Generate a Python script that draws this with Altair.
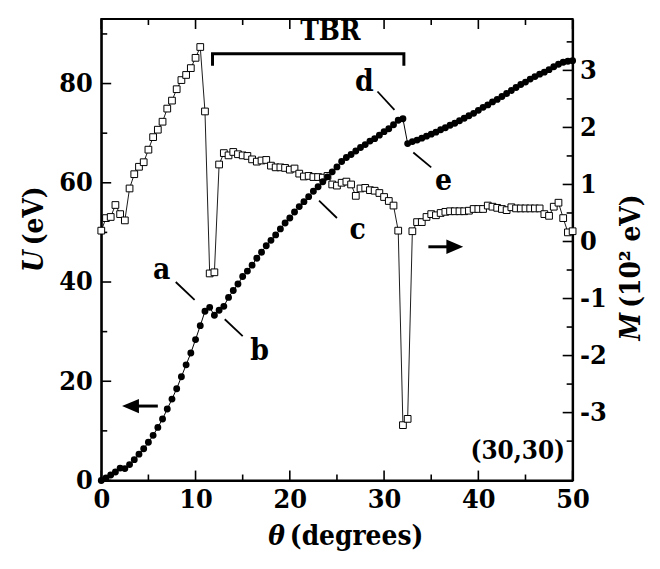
import altair as alt
import pandas as pd

# ---------------- data ----------------
theta = [
    0.0, 0.5, 1.0, 1.5, 2.0, 2.5, 3.0, 3.5, 4.0, 4.5,
    5.0, 5.5, 6.0, 6.5, 7.0, 7.5, 8.0, 8.5, 9.0, 9.5,
    10.0, 10.5, 11.0, 11.5, 12.0, 12.5, 13.0, 13.5, 14.0, 14.5,
    15.0, 15.5, 16.0, 16.5, 17.0, 17.5, 18.0, 18.5, 19.0, 19.5,
    20.0, 20.5, 21.0, 21.5, 22.0, 22.5, 23.0, 23.5, 24.0, 24.5,
    25.0, 25.5, 26.0, 26.5, 27.0, 27.5, 28.0, 28.5, 29.0, 29.5,
    30.0, 30.5, 31.0, 31.5, 32.0, 32.5, 33.0, 33.5, 34.0, 34.5,
    35.0, 35.5, 36.0, 36.5, 37.0, 37.5, 38.0, 38.5, 39.0, 39.5,
    40.0, 40.5, 41.0, 41.5, 42.0, 42.5, 43.0, 43.5, 44.0, 44.5,
    45.0, 45.5, 46.0, 46.5, 47.0, 47.5, 48.0, 48.5, 49.0, 49.5,
    50.0,
]
U_eV = [
    0.0, 0.5, 1.1, 1.7, 2.5, 2.4, 3.2, 4.2, 5.3, 6.4,
    7.7, 9.1, 10.7, 12.4, 14.4, 16.4, 18.5, 20.9, 23.3, 25.7,
    28.4, 31.2, 34.1, 34.9, 33.3, 34.3, 35.1, 36.9, 38.3, 39.6,
    41.1, 42.2, 43.4, 44.8, 46.0, 47.3, 48.4, 49.5, 50.7, 51.9,
    52.9, 54.1, 55.2, 56.2, 57.2, 58.3, 59.2, 60.2, 61.2, 62.2,
    63.2, 64.3, 65.1, 65.7, 66.4, 67.1, 67.7, 68.4, 68.9, 69.6,
    70.3, 70.9, 71.7, 72.6, 72.9, 67.9, 68.3, 68.6, 69.0, 69.4,
    69.8, 70.2, 70.7, 71.1, 71.6, 72.0, 72.5, 73.0, 73.5, 74.0,
    74.6, 75.2, 75.7, 76.3, 76.8, 77.4, 78.0, 78.6, 79.2, 79.8,
    80.3, 80.9, 81.4, 81.9, 82.3, 82.8, 83.4, 83.9, 84.3, 84.5,
    84.6,
]
M_1e2eV = [
    0.19, 0.41, 0.43, 0.64, 0.48, 0.37, 0.93, 1.18, 1.31, 1.39,
    1.61, 1.83, 1.96, 2.10, 2.33, 2.47, 2.67, 2.83, 2.92, 3.04,
    3.22, 3.41, 2.28, -0.56, -0.54, 1.35, 1.55, 1.51, 1.57, 1.53,
    1.51, 1.50, 1.44, 1.40, 1.42, 1.43, 1.33, 1.30, 1.30, 1.29,
    1.26, 1.28, 1.19, 1.14, 1.15, 1.13, 1.13, 1.12, 1.15, 1.00,
    0.98, 1.03, 1.05, 1.00, 0.80, 0.93, 0.94, 0.90, 0.89, 0.85,
    0.78, 0.71, 0.63, 0.19, -3.22, -3.11, 0.18, 0.34, 0.34, 0.43,
    0.48, 0.46, 0.50, 0.52, 0.53, 0.53, 0.53, 0.53, 0.54, 0.57,
    0.57, 0.57, 0.63, 0.61, 0.59, 0.57, 0.55, 0.60, 0.58, 0.58,
    0.58, 0.58, 0.58, 0.58, 0.48, 0.45, 0.61, 0.68, 0.41, 0.16,
    0.18,
]

x_major = [0, 10, 20, 30, 40, 50]
x_minor = [5, 15, 25, 35, 45]
u_major = [0, 20, 40, 60, 80]
u_minor = [10, 30, 50, 70, 90]
m_major = [-3, -2, -1, 0, 1, 2, 3]
m_minor = [-3.5, -2.5, -1.5, -0.5, 0.5, 1.5, 2.5, 3.5]

# annotation letters (theta, U)
lab_text = ["a", "b", "c", "d", "e"]
lab_x = [6.4, 16.8, 27.2, 27.9, 36.3]
lab_u = [42.4, 26.0, 50.4, 80.4, 60.4]
# leader lines (theta1, U1) -> (theta2, U2)
lead_x1 = [7.9, 13.1, 23.1, 29.3, 33.1]
lead_u1 = [40.0, 32.5, 56.4, 78.4, 66.1]
lead_x2 = [9.9, 15.0, 25.0, 31.1, 35.0]
lead_u2 = [36.4, 29.1, 52.9, 74.7, 63.1]
# TBR bracket
br_x = [11.8, 11.8, 32.1, 32.1]
br_u = [83.6, 86.0, 86.0, 83.6]

# ---------------- geometry / style ----------------
W, H = 475, 465
FONT = "DejaVu Serif Condensed, DejaVu Serif, serif"
TICK_FS = 27
TITLE_FS = 28

xs = alt.Scale(domain=[0, 50], nice=False, zero=False)
us = alt.Scale(domain=[0, 93], nice=False, zero=False)
ms = alt.Scale(domain=[-4.19, 3.9], nice=False, zero=False)

common_axis = dict(
    labelFont=FONT, labelFontSize=TICK_FS, labelFontWeight="bold",
    labelColor="black", domainColor="black", domainWidth=2,
    ticks=False, tickSize=0, grid=False, title=None,
    labelFlush=False, labelOverlap=False, labelBound=False,
    labelExpr="'' + datum.value",
)
x_axis = alt.Axis(orient="bottom", values=x_major, labelPadding=6, **common_axis)
u_axis = alt.Axis(orient="left", values=u_major, labelPadding=9, **common_axis)
m_axis = alt.Axis(orient="right", values=m_major, labelPadding=7, **common_axis)


def X(f):
    return alt.X(f, type="quantitative", scale=xs, axis=x_axis)


def YU(f, axis=None):
    return alt.Y(f, type="quantitative", scale=us, axis=axis)


def YM(f, axis=None):
    return alt.Y(f, type="quantitative", scale=ms, axis=axis)


df = pd.DataFrame({"theta": theta, "U": U_eV, "M": M_1e2eV})

m_line = alt.Chart(df).mark_line(color="black", strokeWidth=0.9).encode(
    x=X("theta"), y=YM("M", m_axis))
m_pts = alt.Chart(df).mark_point(
    shape="square", filled=True, fill="white", stroke="black",
    strokeWidth=1, size=46, opacity=1, fillOpacity=1).encode(
    x=X("theta"), y=YM("M"))
u_line = alt.Chart(df).mark_line(color="black", strokeWidth=1).encode(
    x=X("theta"), y=YU("U", u_axis))
u_pts = alt.Chart(df).mark_circle(color="black", size=48, opacity=1).encode(
    x=X("theta"), y=YU("U"))

# inward ticks
xt_maj = pd.DataFrame({"t": x_major})
xt_min = pd.DataFrame({"t": x_minor})
ut_maj = pd.DataFrame({"t": u_major})
ut_min = pd.DataFrame({"t": u_minor})
mt_maj = pd.DataFrame({"t": m_major})
mt_min = pd.DataFrame({"t": m_minor})
TW = 1.6
MAJ, MIN = 10, 6

tick_layers = [
    alt.Chart(xt_maj).mark_rule(color="black", strokeWidth=TW).encode(
        x=X("t"), y=alt.value(H), y2=alt.value(H - MAJ)),
    alt.Chart(xt_min).mark_rule(color="black", strokeWidth=TW).encode(
        x=X("t"), y=alt.value(H), y2=alt.value(H - MIN)),
    alt.Chart(xt_maj).mark_rule(color="black", strokeWidth=TW).encode(
        x=X("t"), y=alt.value(0), y2=alt.value(MAJ)),
    alt.Chart(xt_min).mark_rule(color="black", strokeWidth=TW).encode(
        x=X("t"), y=alt.value(0), y2=alt.value(MIN)),
    alt.Chart(ut_maj).mark_rule(color="black", strokeWidth=TW).encode(
        y=YU("t"), x=alt.value(0), x2=alt.value(MAJ)),
    alt.Chart(ut_min).mark_rule(color="black", strokeWidth=TW).encode(
        y=YU("t"), x=alt.value(0), x2=alt.value(MIN)),
    alt.Chart(mt_maj).mark_rule(color="black", strokeWidth=TW).encode(
        y=YM("t"), x=alt.value(W), x2=alt.value(W - MAJ)),
    alt.Chart(mt_min).mark_rule(color="black", strokeWidth=TW).encode(
        y=YM("t"), x=alt.value(W), x2=alt.value(W - MIN)),
]

# annotations
lead_df = pd.DataFrame({"x1": lead_x1, "u1": lead_u1, "x2": lead_x2, "u2": lead_u2})
leaders = alt.Chart(lead_df).mark_rule(color="black", strokeWidth=1.8).encode(
    x=X("x1"), x2="x2", y=YU("u1"), y2="u2")

br_df = pd.DataFrame({"x": br_x, "u": br_u, "o": [0, 1, 2, 3]})
bracket = alt.Chart(br_df).mark_line(color="black", strokeWidth=3).encode(
    x=X("x"), y=YU("u"), order="o")

lab_df = pd.DataFrame({"x": lab_x, "u": lab_u, "t": lab_text})
letters = alt.Chart(lab_df).mark_text(
    font=FONT, fontSize=30, fontWeight="bold", color="black",
    baseline="middle", align="center").encode(x=X("x"), y=YU("u"), text="t")

tbr = alt.Chart(pd.DataFrame({"x": [24.3], "u": [90.3], "t": ["TBR"]})).mark_text(
    font=FONT, fontSize=28, fontWeight="bold", color="black",
    baseline="middle", align="center").encode(x=X("x"), y=YU("u"), text="t")

tag = alt.Chart(pd.DataFrame({"x": [49.2], "u": [6.0], "t": ["(30,30)"]})).mark_text(
    font=FONT, fontSize=26, fontWeight="bold", color="black",
    baseline="middle", align="right").encode(x=X("x"), y=YU("u"), text="t")

# arrows
arr_df = pd.DataFrame({"x1": [3.1, 34.7], "x2": [6.0, 37.5], "u": [15.0, 47.1]})
shafts = alt.Chart(arr_df).mark_rule(color="black", strokeWidth=3).encode(
    x=X("x1"), x2="x2", y=YU("u"))
head_l = alt.Chart(pd.DataFrame({"x": [3.1], "u": [15.0]})).mark_point(
    shape="M -1 0 L 1 -0.85 L 1 0.85 Z", filled=True, color="black",
    size=289, opacity=1).encode(x=X("x"), y=YU("u"))
head_r = alt.Chart(pd.DataFrame({"x": [37.5], "u": [47.1]})).mark_point(
    shape="M 1 0 L -1 -0.85 L -1 0.85 Z", filled=True, color="black",
    size=289, opacity=1).encode(x=X("x"), y=YU("u"))

# axis titles (italic symbol + bold text)
def ttext(txt, px, py, align, italic=False, angle=0):
    kw = dict(font=FONT, fontSize=TITLE_FS, fontWeight="bold", color="black",
              baseline="middle", align=align)
    if italic:
        kw["fontStyle"] = "italic"
    if angle:
        kw["angle"] = angle
    return alt.Chart(pd.DataFrame({"t": [txt]})).mark_text(**kw).encode(
        x=alt.value(px), y=alt.value(py), text="t")

titles = [
    ttext("\u03b8", 185, 522, "right", italic=True),
    ttext("(degrees)", 190, 522, "left"),
    ttext("U", -67, 233, "right", italic=True, angle=270),
    ttext("(eV)", -67, 228, "left", angle=270),
    ttext("M", 535, 296, "right", italic=True, angle=270),
    ttext("(10\u00b2 eV)", 535, 291, "left", angle=270),
]

chart = alt.layer(
    m_line, u_line, *tick_layers, bracket, leaders, shafts, head_l, head_r,
    m_pts, u_pts, letters, tbr, tag, *titles,
).resolve_scale(y="independent").properties(
    width=W, height=H,
    padding={"left": 94, "top": 9, "right": 80, "bottom": 78},
    autosize=alt.AutoSizeParams(type="none"),
    background="white",
).configure_view(stroke="black", strokeWidth=2)

chart.save("out.html", embed_options={"renderer": "svg", "actions": False})
